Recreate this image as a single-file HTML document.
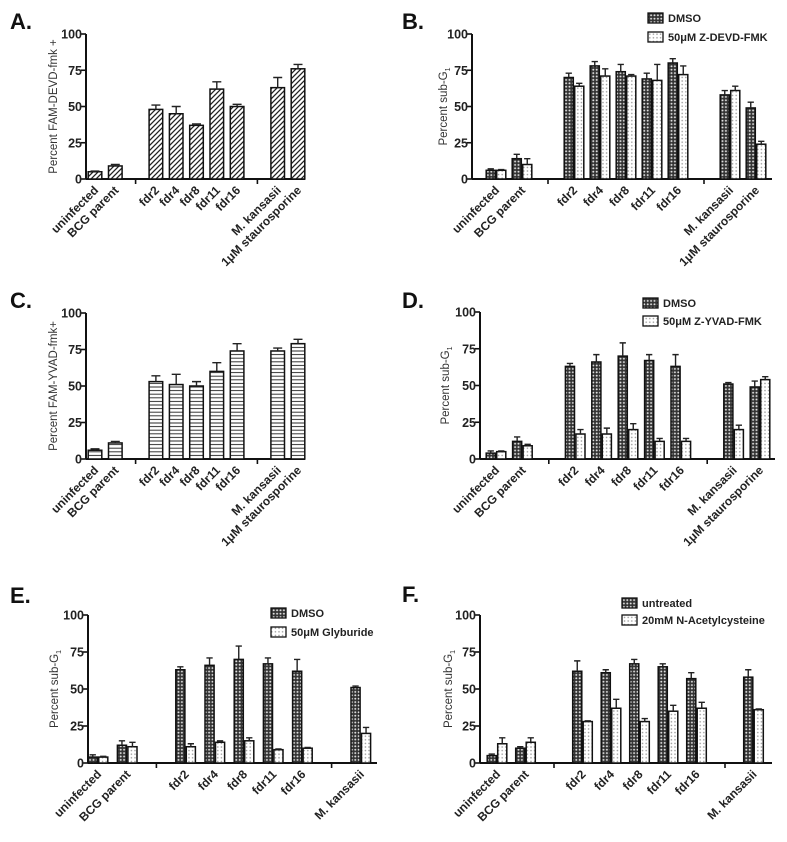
<!DOCTYPE html>
<html><head><meta charset="utf-8">
<style>
html,body{margin:0;padding:0;background:#fff;}
svg{display:block;font-family:"Liberation Sans",Arial,sans-serif;}
</style></head>
<body>
<svg id="fig" width="787" height="842" viewBox="0 0 787 842" xmlns="http://www.w3.org/2000/svg">
<defs>
<pattern id="hatch" patternUnits="userSpaceOnUse" width="5" height="5">
<rect width="5" height="5" fill="#fff"/>
<path d="M-1,6 L6,-1 M-1,1 L1,-1 M4,6 L6,4" stroke="#222" stroke-width="1.3"/>
</pattern>
<pattern id="horiz" patternUnits="userSpaceOnUse" width="4" height="3.6">
<rect width="4" height="3.6" fill="#fff"/>
<line x1="0" y1="1.8" x2="4" y2="1.8" stroke="#333" stroke-width="1"/>
</pattern>
<pattern id="dark" patternUnits="userSpaceOnUse" width="3.4" height="3.4">
<rect width="3.4" height="3.4" fill="#333"/>
<circle cx="1.7" cy="1.7" r="1.0" fill="#ddd"/>
</pattern>
<pattern id="light" patternUnits="userSpaceOnUse" width="3.6" height="3.6">
<rect width="3.6" height="3.6" fill="#fff"/>
<circle cx="1.8" cy="1.8" r="0.8" fill="#999"/>
</pattern>
</defs>
</svg>
<script>
// ---- data ----
const catsFull = ["uninfected","BCG parent","fdr2","fdr4","fdr8","fdr11","fdr16","M. kansasii","1\u03BCM staurosporine"];
const catsShort = ["uninfected","BCG parent","fdr2","fdr4","fdr8","fdr11","fdr16","M. kansasii"];
const aVals = [5, 9, 48, 45, 37, 62, 50, 63, 76];
const aErr  = [0.5, 1, 3, 5, 1, 5, 1.5, 7, 3];
const cVals = [6, 11, 53, 51, 50, 60, 74, 74, 79];
const cErr  = [1, 1, 4, 7, 3, 6, 5, 2, 3];
const bDmso = [6, 14, 70, 78, 74, 69, 80, 58, 49];
const bDmsoErr = [1, 3, 3, 3, 5, 4, 3, 3, 4];
const bZ    = [6, 10, 64, 71, 71, 68, 72, 61, 24];
const bZErr = [0.5, 4, 2, 5, 1, 11, 6, 3, 2];
const dDmso = [4, 12, 63, 66, 70, 67, 63, 51, 49];
const dDmsoErr = [1.5, 3, 2, 5, 9, 4, 8, 1, 4];
const dZ    = [5, 9, 17, 17, 20, 12, 12, 20, 54];
const dZErr = [0.5, 1, 3, 4, 4, 2, 2, 3, 2];
const eDmso = [4, 12, 63, 66, 70, 67, 62, 51];
const eDmsoErr = [1.5, 3, 2, 5, 9, 4, 8, 1];
const eGly  = [4, 11, 11, 14, 15, 9, 10, 20];
const eGlyErr = [0.5, 3, 2, 1, 2, 0.5, 0.5, 4];
const fUnt  = [5, 10, 62, 61, 67, 65, 57, 58];
const fUntErr = [1, 1, 7, 2, 3, 2, 4, 5];
const fNac  = [13, 14, 28, 37, 28, 35, 37, 36];
const fNacErr = [4, 3, 0.5, 6, 2, 4, 4, 0.5];
const yTicks = [0, 25, 50, 75, 100];
const slots9 = [0,1,3,4,5,6,7,9,10];
const slots8 = [0,1,3,4,5,6,7,9];

const NS = "http://www.w3.org/2000/svg";
const fig = document.getElementById("fig");
function mk(tag, attrs, parent){
  const e = document.createElementNS(NS, tag);
  for (const k in attrs) e.setAttribute(k, attrs[k]);
  (parent||fig).appendChild(e);
  return e;
}

function panel(cfg){
  const g = mk("g", {});
  
  
  const y = v => cfg.bottom - v/100*(cfg.bottom - cfg.top);
  const x = s => cfg.x0 + s*cfg.step;
  const L = mk("text", {x:cfg.labelX, y:cfg.labelY, "font-size":22, "font-weight":"bold", fill:"#111"}, g);
  L.textContent = cfg.id.toUpperCase() + ".";
  
  
  const ya = mk("line", {x1:cfg.ax, y1:cfg.top, x2:cfg.ax, y2:cfg.bottom, stroke:"#111", "stroke-width":2}, g);
  
  
  const xa = mk("line", {x1:cfg.ax, y1:cfg.bottom, x2:cfg.axEnd, y2:cfg.bottom, stroke:"#111", "stroke-width":2}, g);
  
  
  yTicks.forEach(t => {
    const tk = mk("line", {x1:cfg.ax-5, y1:y(t), x2:cfg.ax, y2:y(t), stroke:"#111", "stroke-width":1.6}, g);
    
    
    const tl = mk("text", {x:cfg.ax-4, y:y(t)+4.5, "font-size":12.5, "font-weight":"bold", "text-anchor":"end", fill:"#222"}, g);
    tl.textContent = t;
    
    
  });
  cfg.gaps.forEach(s => {
    const gt = mk("line", {x1:x(s), y1:cfg.bottom, x2:x(s), y2:cfg.bottom+5, stroke:"#111", "stroke-width":1.6}, g);
    
    
  });
  const yt = mk("text", {x:0, y:0, "font-size":11.5, fill:"#333", "text-anchor":"middle",
    transform:`translate(${cfg.titleX},${(cfg.top+cfg.bottom)/2}) rotate(-90)`}, g);
  
  
  if (cfg.sub) {
    yt.textContent = "Percent sub-G";
    const ts = mk("tspan", {"font-size":7, dy:3}, yt); ts.textContent = "1";
  } else yt.textContent = cfg.title;
  const n = cfg.series.length;
  cfg.cats.forEach((c, i) => {
    const cx = x(cfg.slots[i]);
    cfg.series.forEach((s, j) => {
      const bx = cx - n*cfg.bw/2 + j*cfg.bw;
      const v = s.vals[i], e = s.err[i];
      const r = mk("rect", {x:bx+0.7, y:y(v), width:cfg.bw-1.4, height:cfg.bottom-y(v), fill:`url(#${s.pat})`, stroke:"#111", "stroke-width":1.5}, g);
      
      
      const mid = bx + cfg.bw/2;
      const eb = mk("path", {d:`M${mid},${y(v)} V${y(v+e)} M${mid-cfg.bw*0.3},${y(v+e)} H${mid+cfg.bw*0.3}`, stroke:"#222", "stroke-width":1.4, fill:"none"}, g);
      
      
    });
    const xl = mk("text", {x:0, y:0, "font-size":12, "font-weight":"bold", fill:"#222", "text-anchor":"end",
      transform:`translate(${cx+4},${cfg.bottom+12}) rotate(-45)`}, g);
    xl.textContent = c;
    
    
  });
  if (cfg.legend) {
    cfg.series.forEach((s, j) => {
      const ly = cfg.legend.y + j*cfg.legend.dy;
      const lb = mk("rect", {x:cfg.legend.x, y:ly-9, width:15, height:10, fill:`url(#${s.pat})`, stroke:"#111", "stroke-width":1.3}, g);
      
      
      const lt = mk("text", {x:cfg.legend.x+20, y:ly, "font-size":11, "font-weight":"bold", fill:"#222"}, g);
      lt.textContent = s.name;
      
      
    });
  }
}

panel({id:"a", labelX:10, labelY:29, ax:86, axEnd:305, top:34, bottom:179, x0:95, step:20.3, bw:15,
  slots:slots9, gaps:[2,8], cats:catsFull, titleX:57, title:"Percent FAM-DEVD-fmk +",
  series:[{key:"a", vals:aVals, err:aErr, pat:"hatch"}]});
panel({id:"b", labelX:402, labelY:29, ax:472, axEnd:772, top:34, bottom:179, x0:496, step:26, bw:10.5,
  slots:slots9, gaps:[2,8], cats:catsFull, titleX:447, sub:true,
  legend:{x:648, y:22, dy:19},
  series:[{key:"dmso", name:"DMSO", vals:bDmso, err:bDmsoErr, pat:"dark"},
          {key:"zdevd", name:"50\u03BCM Z-DEVD-FMK", vals:bZ, err:bZErr, pat:"light"}]});
panel({id:"c", labelX:10, labelY:308, ax:86, axEnd:305, top:313, bottom:459, x0:95, step:20.3, bw:15,
  slots:slots9, gaps:[2,8], cats:catsFull, titleX:57, title:"Percent FAM-YVAD-fmk+",
  series:[{key:"c", vals:cVals, err:cErr, pat:"horiz"}]});
panel({id:"d", labelX:402, labelY:308, ax:480, axEnd:775, top:312, bottom:459, x0:496, step:26.4, bw:10.5,
  slots:slots9, gaps:[2,8], cats:catsFull, titleX:449, sub:true,
  legend:{x:643, y:307, dy:18},
  series:[{key:"dmso", name:"DMSO", vals:dDmso, err:dDmsoErr, pat:"dark"},
          {key:"zyvad", name:"50\u03BCM Z-YVAD-FMK", vals:dZ, err:dZErr, pat:"light"}]});
panel({id:"e", labelX:10, labelY:603, ax:88, axEnd:377, top:615, bottom:763, x0:98, step:29.2, bw:10.5,
  slots:slots8, gaps:[2,8], cats:catsShort, titleX:58, sub:true,
  legend:{x:271, y:617, dy:19},
  series:[{key:"dmso", name:"DMSO", vals:eDmso, err:eDmsoErr, pat:"dark"},
          {key:"glyb", name:"50\u03BCM Glyburide", vals:eGly, err:eGlyErr, pat:"light"}]});
panel({id:"f", labelX:402, labelY:602, ax:480, axEnd:772, top:615, bottom:763, x0:497, step:28.5, bw:10.5,
  slots:slots8, gaps:[2,8], cats:catsShort, titleX:452, sub:true,
  legend:{x:622, y:607, dy:17},
  series:[{key:"unt", name:"untreated", vals:fUnt, err:fUntErr, pat:"dark"},
          {key:"nac", name:"20mM N-Acetylcysteine", vals:fNac, err:fNacErr, pat:"light"}]});
</script>
</body></html>
